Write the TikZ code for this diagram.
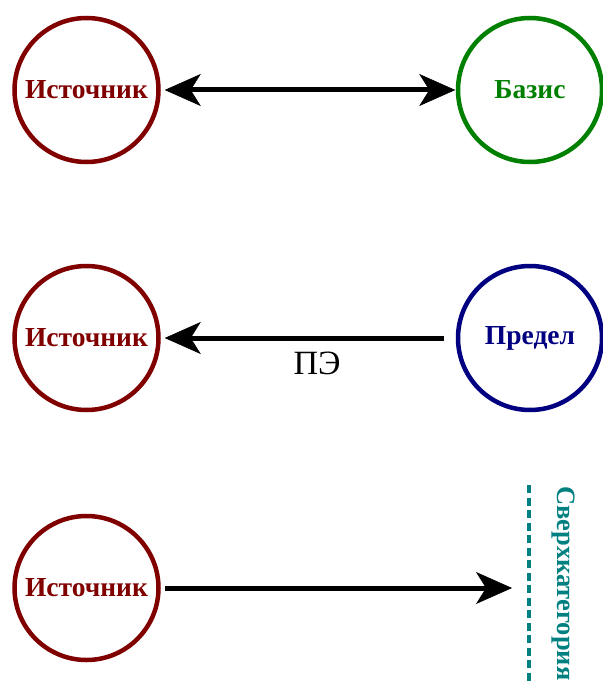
\documentclass[tikz,border=0pt]{standalone}
\usepackage{fontspec}
\setmainfont{Liberation Serif}
\usetikzlibrary{arrows.meta}
\definecolor{cred}{RGB}{128,0,0}
\definecolor{cgreen}{RGB}{0,128,0}
\definecolor{cblue}{RGB}{0,0,128}
\definecolor{cteal}{RGB}{0,128,128}
\begin{document}
\begin{tikzpicture}[x=1pt,y=1pt,
  conc/.style={circle, draw=#1, text=#1, line width=4.5pt, minimum size=144pt, inner sep=0pt,
    font=\fontsize{27.5}{30}\selectfont\bfseries},
  arr/.style={line width=5pt, draw=black},
  bigtip/.tip={Stealth[length=36pt,width=32pt,inset=10pt,line width=0.5pt]},
  lbl/.style={font=\fontsize{34}{40}\selectfont, text=black},
  dashline/.style={draw=cteal, line width=4.5pt, dash pattern=on 8pt off 4.5pt},
  vlabel/.style={rotate=-90, anchor=base west, text=cteal, font=\fontsize{26.5}{30}\selectfont\bfseries, inner sep=0pt}
]
\useasboundingbox (0,0) rectangle (602,-682);
\fill[white] (0,0) rectangle (602,-682);

\node[conc=cred]   (s1) at (86.5,-90)  {Источник};
\node[conc=cgreen] (b)  at (530,-90)   {Базис};
\node[conc=cred]   (s2) at (86.5,-338) {Источник};
\node[conc=cblue]  (p)  at (530,-338)  {Предел};
\node[conc=cred]   (s3) at (86.5,-588) {Источник};

\coordinate (dtop) at (529,-485);
\coordinate (dbot) at (529,-682);
\draw[dashline] (dtop) -- (dbot);
\node[vlabel] (sk) at (557,-486) {Сверхкатегория};

\draw[arr, bigtip-bigtip, shorten <=4pt, shorten >=0.5pt] (s1) -- (b);
\draw[arr, -bigtip, shorten <=11.5pt, shorten >=4pt] (p) -- (s2)
  node[lbl, pos=0.47, yshift=-25.5pt] (pe) {ПЭ};
\draw[arr, -bigtip, shorten <=4pt, shorten >=17pt] (s3) -- (s3 -| dtop);
\end{tikzpicture}
\end{document}
